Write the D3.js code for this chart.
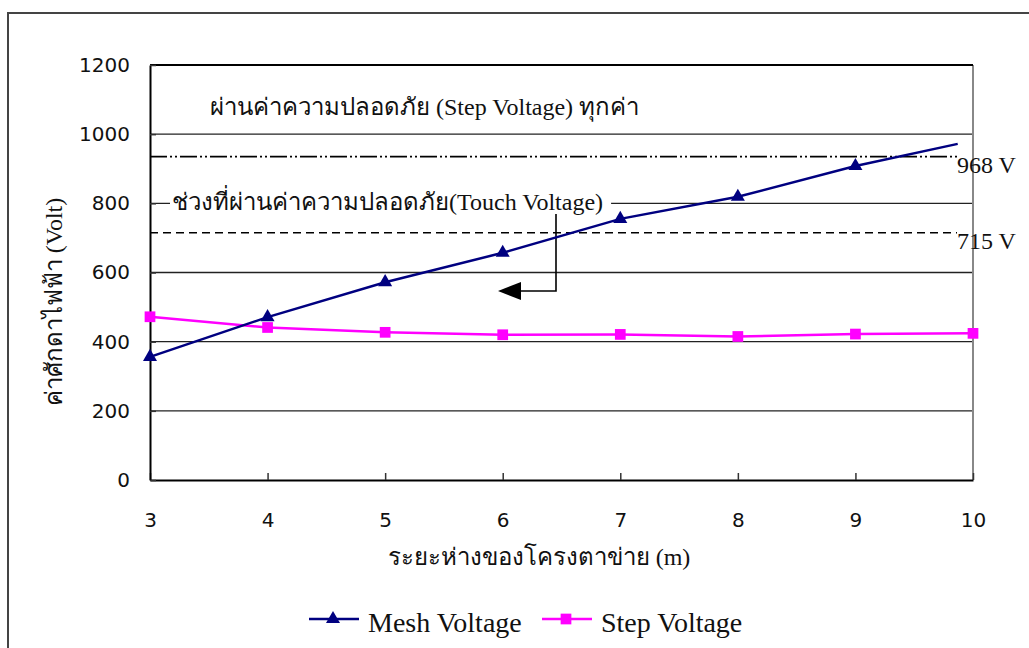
<!DOCTYPE html>
<html>
<head>
<meta charset="utf-8">
<script src="https://cdn.jsdelivr.net/npm/d3@7"></script>
<style>
 body { margin: 0; background: #fff; }
 svg { display: block; }
</style>
</head>
<body>
<svg></svg>
<script>
// ข้อมูล
const meshX = [3, 4, 5, 6, 7, 8, 9, 9.87];
const meshV = [356, 471, 572, 657, 755, 819, 908, 972];
const stepX = [3, 4, 5, 6, 7, 8, 9, 10];
const stepV = [472, 441, 427, 420, 421, 415, 422, 424];
const xTicks = [3, 4, 5, 6, 7, 8, 9, 10];
const yTicks = [0, 200, 400, 600, 800, 1000, 1200];
const refV = [935, 715];
const refLabels = ["968 V", "715 V"];
const seriesNames = ["Mesh Voltage", "Step Voltage"];

const width = 1029;
const height = 648;
const serif = "'Liberation Serif', 'Times New Roman', serif";
const sans = "'DejaVu Sans', sans-serif";

let svg = d3.select("svg")
 .attr("width", width)
 .attr("height", height);

// กรอบนอก
svg.append("rect")
 .attr("x", 8).attr("y", 13)
 .attr("width", 1100).attr("height", 700)
 .style("fill", "none").style("stroke", "#444").style("stroke-width", 2);

const x = d3.scaleLinear().domain([3, 10]).range([150, 973]);
const y = d3.scaleLinear().domain([0, 1200]).range([480, 65]);

// เส้นกริด
svg.append("g").selectAll("line")
 .data(yTicks.filter(d => d > 0 && d < 1200))
 .join("line")
 .attr("x1", x(3)).attr("x2", x(10))
 .attr("y1", d => y(d)).attr("y2", d => y(d))
 .style("stroke", "#222").style("stroke-width", 1.3);

// กรอบพื้นที่กราฟ
svg.append("line").attr("x1", x(10)).attr("x2", x(10)).attr("y1", y(1200)).attr("y2", y(0))
 .style("stroke", "#888").style("stroke-width", 2);
svg.append("line").attr("x1", x(3)).attr("x2", x(10)).attr("y1", y(1200)).attr("y2", y(1200))
 .style("stroke", "#000").style("stroke-width", 2);

// แกน
let xAxis = svg.append("g")
 .attr("transform", `translate(0, ${y(0)})`)
 .call(d3.axisBottom(x).tickValues(xTicks).tickFormat(d3.format("d"))
 .tickSizeInner(-7).tickSizeOuter(0).tickPadding(33));
let yAxis = svg.append("g")
 .attr("transform", `translate(${x(3)}, 0)`)
 .call(d3.axisLeft(y).tickValues(yTicks).tickFormat(d3.format("d"))
 .tickSizeInner(-6).tickSizeOuter(0).tickPadding(20));
[xAxis, yAxis].forEach(a => {
 a.select(".domain").style("stroke", "#000").style("stroke-width", 2);
 a.selectAll(".tick line").style("stroke", "#333").style("stroke-width", 1.5);
 a.selectAll(".tick text").style("font-family", sans).style("font-size", "20px").style("fill", "#111");
});
xAxis.selectAll(".tick text").attr("dy", "0.71em");

// เส้นอ้างอิง
const dashes = ["17,3,2,3,2,3", "8,5"];
refV.forEach((v, i) => {
 svg.append("line")
 .attr("x1", x(3)).attr("x2", 957)
 .attr("y1", y(v)).attr("y2", y(v))
 .style("stroke", "#000").style("stroke-width", 1.6)
 .style("stroke-dasharray", dashes[i]);
 svg.append("text")
 .attr("x", 957).attr("y", y(v) + 16)
 .text(refLabels[i])
 .style("font-family", serif).style("font-size", "24px").style("fill", "#111");
});

// ข้อความ
svg.append("text")
 .attr("x", 210).attr("y", 115)
 .text("ผ่านค่าความปลอดภัย (Step Voltage) ทุกค่า")
 .style("font-family", serif).style("font-size", "24px").style("fill", "#111");

let t2 = svg.append("text")
 .attr("x", 172).attr("y", 210)
 .text("ช่วงที่ผ่านค่าความปลอดภัย(Touch Voltage)")
 .style("font-family", serif).style("font-size", "24px").style("fill", "#111");
let bb = t2.node().getBBox();
svg.insert("rect", () => t2.node())
 .attr("x", bb.x - 2).attr("y", bb.y + 4)
 .attr("width", bb.width + 10).attr("height", bb.height - 4)
 .style("fill", "#fff");

// ลูกศร
svg.append("path")
 .attr("d", "M556,214 V291 H518")
 .style("fill", "none").style("stroke", "#000").style("stroke-width", 1.6);
svg.append("path")
 .attr("d", "M498,291 L521,282 L521,300 Z")
 .style("fill", "#000");

// เส้นข้อมูล
const line = d3.line().x(d => x(d[0])).y(d => y(d[1]));
const meshData = meshX.map((d, i) => [d, meshV[i]]);
const stepData = stepX.map((d, i) => [d, stepV[i]]);

svg.append("path")
 .attr("d", line(stepData))
 .style("fill", "none").style("stroke", "#ff00ff").style("stroke-width", 2.5);
svg.append("path")
 .attr("d", line(meshData))
 .style("fill", "none").style("stroke", "#000080").style("stroke-width", 2.5);

const tri = d3.symbol().type(d3.symbolTriangle).size(85);
const sq = d3.symbol().type(d3.symbolSquare).size(115);

svg.append("g").selectAll("path")
 .data(stepData)
 .join("path")
 .attr("d", sq)
 .attr("transform", d => `translate(${x(d[0])}, ${y(d[1])})`)
 .style("fill", "#ff00ff");
svg.append("g").selectAll("path")
 .data(meshData.filter(d => d[0] % 1 === 0))
 .join("path")
 .attr("d", tri)
 .attr("transform", d => `translate(${x(d[0])}, ${y(d[1])})`)
 .style("fill", "#000080");

// ชื่อแกน
svg.append("text")
 .attr("x", 539).attr("y", 565)
 .attr("text-anchor", "middle")
 .text("ระยะห่างของโครงตาข่าย (m)")
 .style("font-family", serif).style("font-size", "24px").style("fill", "#111");
svg.append("text")
 .attr("transform", "translate(62, 302) rotate(-90)")
 .attr("text-anchor", "middle")
 .text("ค่าศักดาไฟฟ้า (Volt)")
 .style("font-family", serif).style("font-size", "24px").style("fill", "#111");

// คำอธิบาย
const legendX = [309, 542];
const colors = ["#000080", "#ff00ff"];
const symbols = [tri, sq];
seriesNames.forEach((name, i) => {
 let g = svg.append("g").attr("transform", `translate(${legendX[i]}, 619)`);
 g.append("line").attr("x1", 0).attr("x2", 50)
 .style("stroke", colors[i]).style("stroke-width", 2.5);
 g.append("path").attr("d", symbols[i]).attr("transform", "translate(24, 0)")
 .style("fill", colors[i]);
 g.append("text").attr("x", 59).attr("y", 13)
 .text(name)
 .style("font-family", serif).style("font-size", "28px").style("fill", "#111");
});
</script>
</body>
</html>
